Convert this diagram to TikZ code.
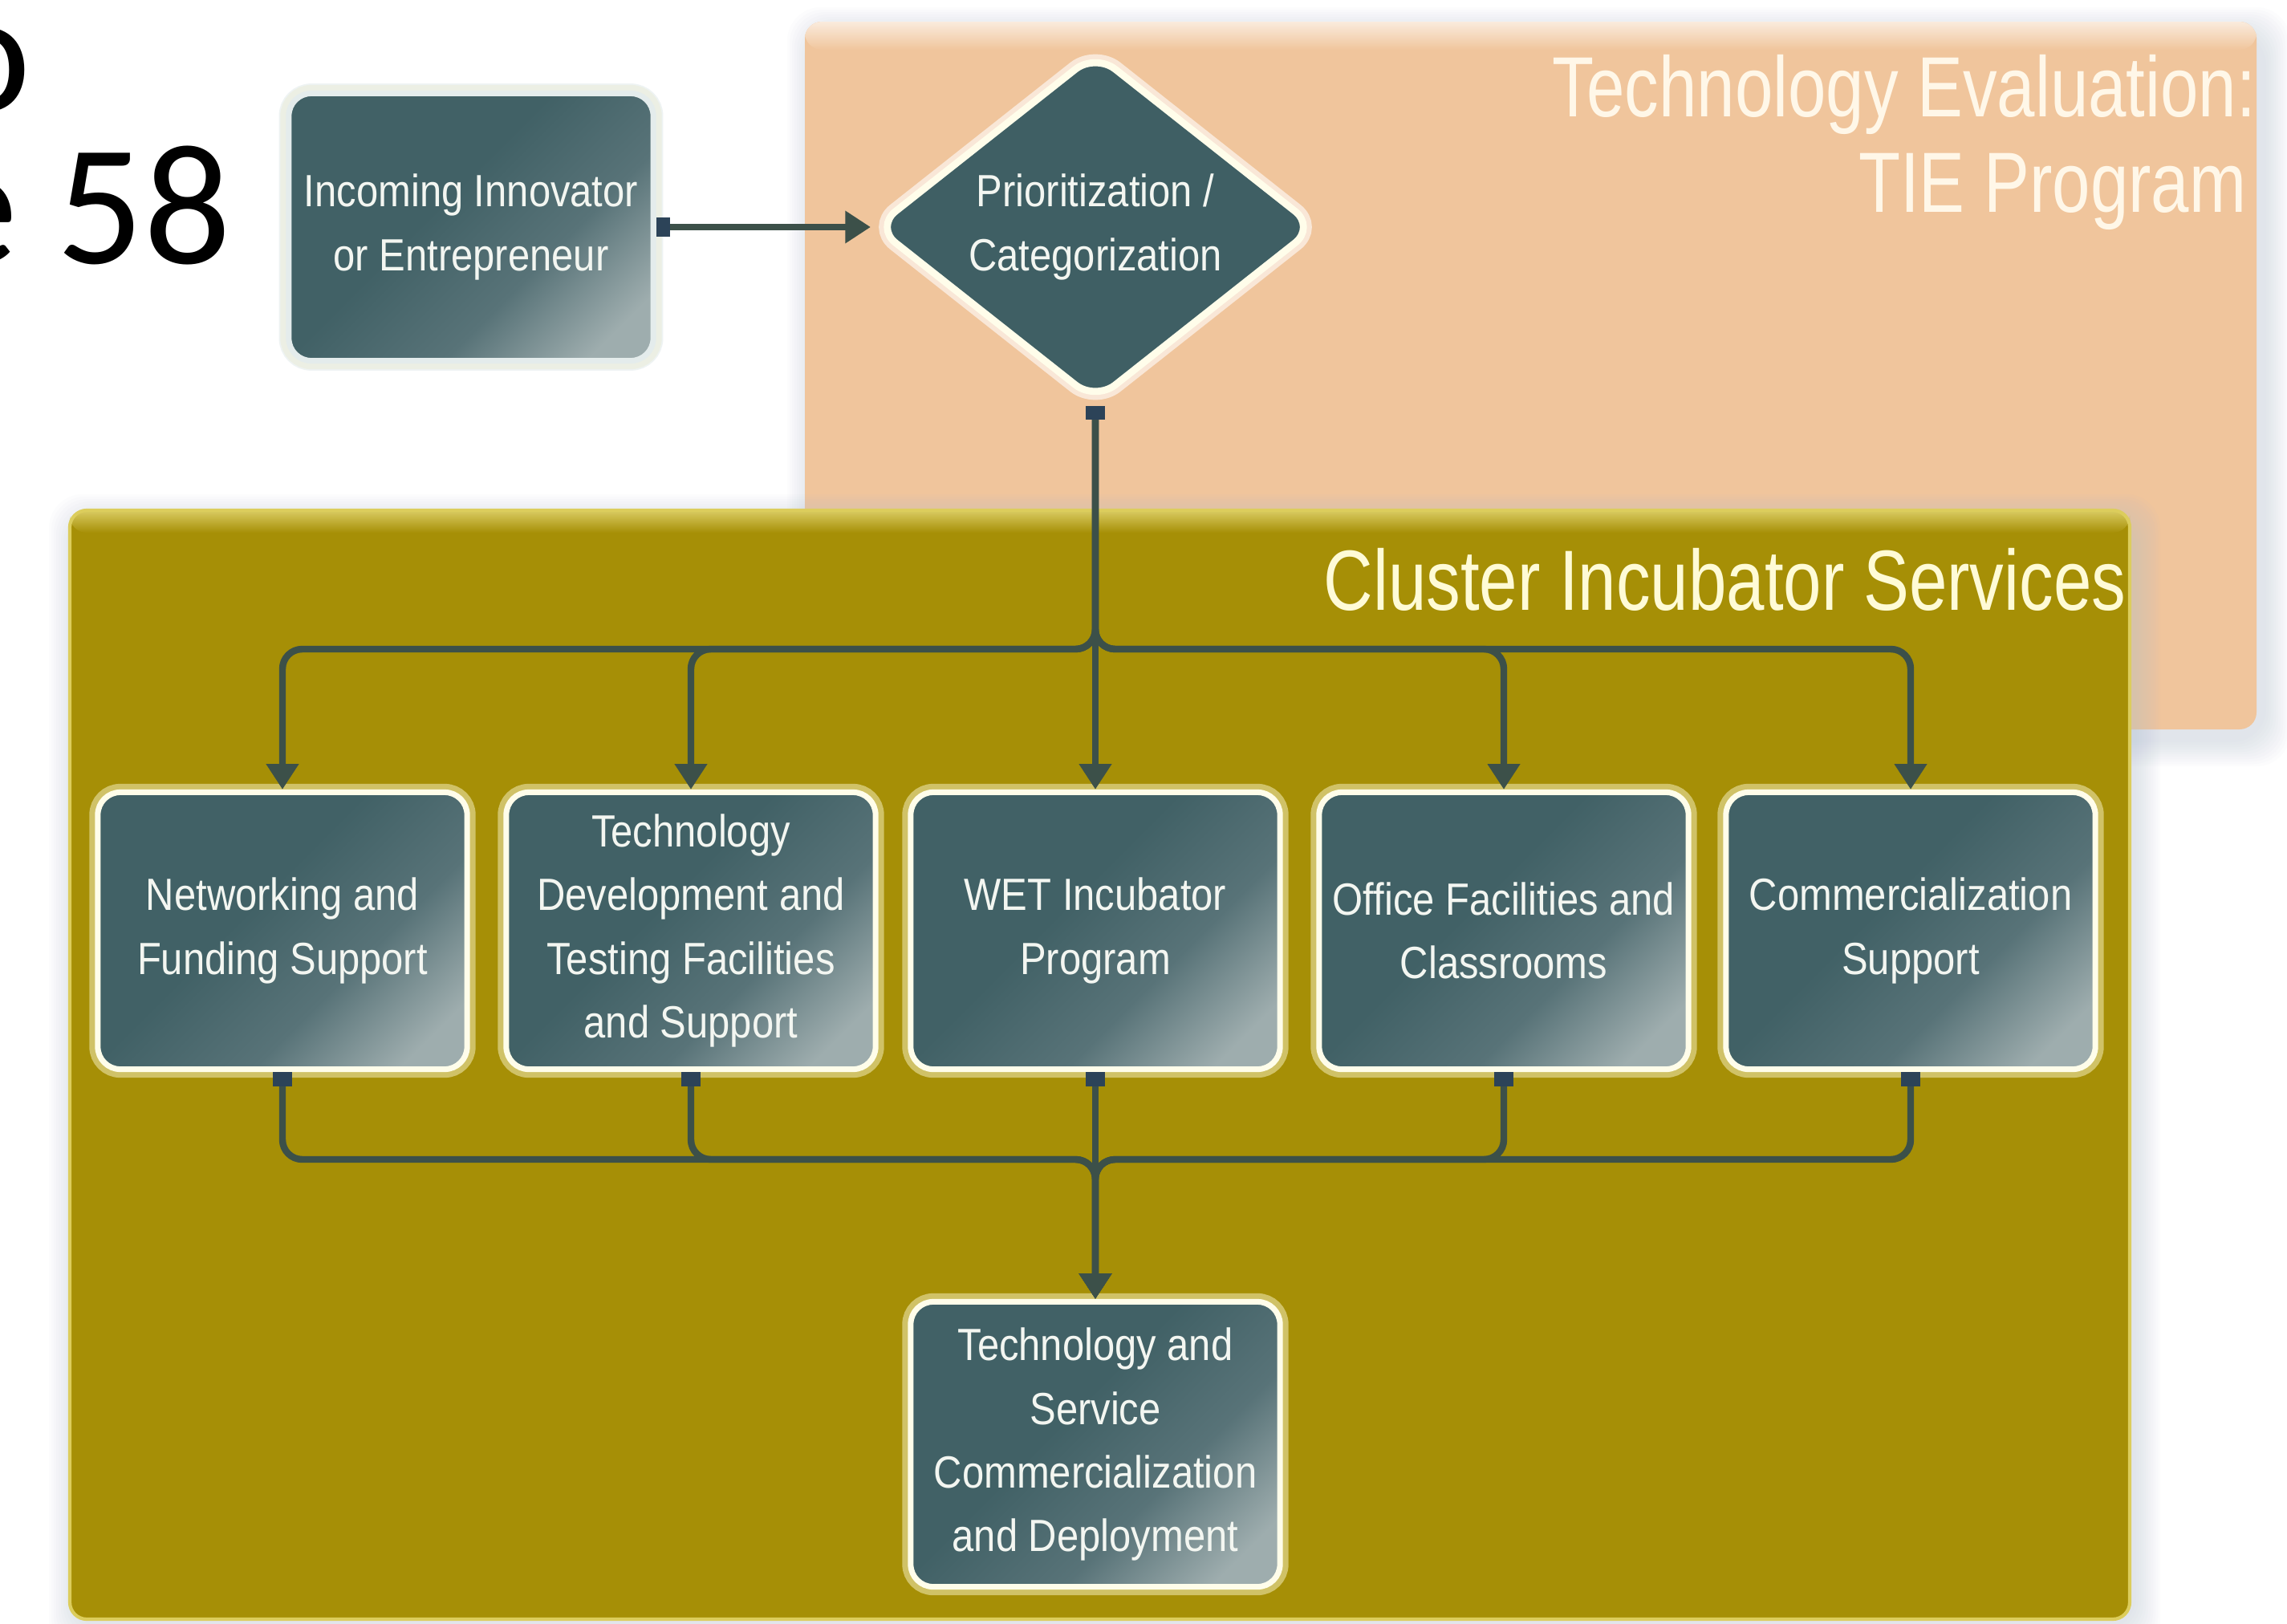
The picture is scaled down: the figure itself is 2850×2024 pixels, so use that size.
\documentclass[tikz,border=0pt]{standalone}
\usepackage{fontspec}
\setmainfont{Liberation Sans}
\newfontfamily\boxfont[FakeStretch=0.87]{Liberation Sans}
\newfontfamily\titlefont[FakeStretch=0.8]{Liberation Sans}
\newfontfamily\slidefont{Carlito}
\usetikzlibrary{shapes.geometric,arrows.meta}
\definecolor{peach}{HTML}{F0C59C}
\definecolor{peachtop}{HTML}{FAEBDD}
\definecolor{olive}{HTML}{A68F06}
\definecolor{olivetop}{HTML}{D9CB62}
\definecolor{oliveedge}{HTML}{DCCD5C}
\definecolor{boxdark}{HTML}{416166}
\definecolor{boxmid}{HTML}{587378}
\definecolor{boxlight}{HTML}{9EADAE}
\definecolor{boxline}{HTML}{FFFDEA}
\definecolor{glowc}{HTML}{F3EDB8}
\definecolor{lightglow}{HTML}{E4ECEC}
\definecolor{boxtext}{HTML}{F3F6F1}
\definecolor{conncol}{HTML}{3C5049}
\definecolor{nubcol}{HTML}{2C4358}
\definecolor{tecol}{HTML}{FFF7E8}
\definecolor{citcol}{HTML}{FFFBD6}
\definecolor{shadowc}{HTML}{B4C2D4}
\definecolor{diafill}{HTML}{3F5F64}
\pgfdeclareverticalshading{boxsh}{100bp}{color(0bp)=(boxlight); color(22bp)=(boxlight); color(38bp)=(boxmid); color(56bp)=(boxdark); color(100bp)=(boxdark)}
\tikzset{
  procbox/.style={rectangle, rounded corners=8pt, shade, shading=boxsh, shading angle=45,
    draw=boxline, line width=2pt, minimum width=4.6cm, minimum height=3.45cm, inner sep=1pt,
    align=center, text=boxtext, font=\boxfont\fontsize{16}{22.5}\selectfont,
    preaction={draw=glowc, line width=6pt, draw opacity=0.55}},
  conn/.style={draw=conncol, line width=2.4pt, rounded corners=7pt},
  nubarr/.style={{Rectangle[length=5pt,width=7pt,color=nubcol]}-{Triangle[length=9pt,width=11pt]}},
  region/.style={rounded corners=6pt},
  titletext/.style={inner sep=0pt, anchor=base east, font=\titlefont\fontsize{30.3}{34}\selectfont},
}
\begin{document}
\begin{tikzpicture}[x=0.01cm, y=-0.01cm]
\useasboundingbox (0,0) rectangle (2850,2024);
\fill[white] (0,0) rectangle (2850,2024);

% slide text fragments
\node[anchor=base east, inner sep=0pt, font=\slidefont\fontsize{61}{61}\selectfont] (pgtop) at (39,138) {o};
\node[anchor=base east, inner sep=0pt, font=\slidefont\fontsize{61}{61}\selectfont] (pgnum) at (289,328) {e 58};

% peach region
\foreach \d in {2,5,...,32}
  \fill[shadowc, opacity=0.04, rounded corners=12pt] (1003-\d+10,27-\d+14) rectangle (2812+\d+10,909+\d+14);
\fill[peach, region] (1003,27) rectangle (2812,909);
\shade[top color=peachtop, bottom color=peach, region] (1003,27) rectangle (2812,62);
\node[titletext, text=tecol] (tetitle) at (2812,145) {Technology Evaluation:};
\node[titletext, text=tecol] (tetitle2) at (2800,264) {TIE Program};

% olive region
\foreach \d in {2,5,...,32}
  \fill[shadowc, opacity=0.04, rounded corners=12pt] (87-\d+6,636-\d+12) rectangle (2654+\d+6,2018+\d+12);
\fill[olive, region] (87,636) rectangle (2654,2018);
\shade[top color=olivetop, bottom color=olive, region] (87,636) rectangle (2654,664);
\draw[oliveedge, line width=1.2pt, region] (87,636) rectangle (2654,2018);
\node[titletext, text=citcol] (cistitle) at (2650,760) {Cluster Incubator Services};

% nodes
\node[procbox, minimum width=4.54cm, minimum height=3.33cm, draw=lightglow,
      preaction={draw=lightglow, line width=7pt, draw opacity=0.6}] (inc) at (587,283) {Incoming Innovator\\or Entrepreneur};
\node[diamond, aspect=1.3, minimum width=5.51cm, minimum height=4.36cm, inner sep=0pt,
      fill=diafill, draw=boxline, line width=2.5pt, rounded corners=9pt,
      preaction={draw=white, line width=6pt, draw opacity=0.6},
      align=center, text=boxtext, font=\boxfont\fontsize{16}{23}\selectfont] (dia) at (1365,283) {Prioritization /\\Categorization};

\node[procbox] (b1) at (352,1160) {Networking and\\Funding Support};
\node[procbox] (b2) at (861,1160) {Technology\\Development and\\Testing Facilities\\and Support};
\node[procbox] (b3) at (1365,1160) {WET Incubator\\Program};
\node[procbox] (b4) at (1874,1160) {Office Facilities and\\Classrooms};
\node[procbox] (b5) at (2381,1160) {Commercialization\\Support};
\node[procbox, minimum height=3.55cm] (b6) at (1365,1800) {Technology and\\Service\\Commercialization\\and Deployment};

\coordinate (split) at (1365,809);
\coordinate (merge) at (1365,1445);

% connectors
\draw[conn, nubarr] (inc.east) -- (dia.west);
\foreach \b in {b1,b2,b4,b5}
  \draw[conn, nubarr] (dia.south) -- (split) -| (\b.north);
\draw[conn, nubarr] (dia.south) -- (b3.north);
\foreach \b in {b1,b2,b4,b5}
  \draw[conn, nubarr] (\b.south) |- (merge) -- (b6.north);
\draw[conn, nubarr] (b3.south) -- (b6.north);
\end{tikzpicture}
\end{document}
